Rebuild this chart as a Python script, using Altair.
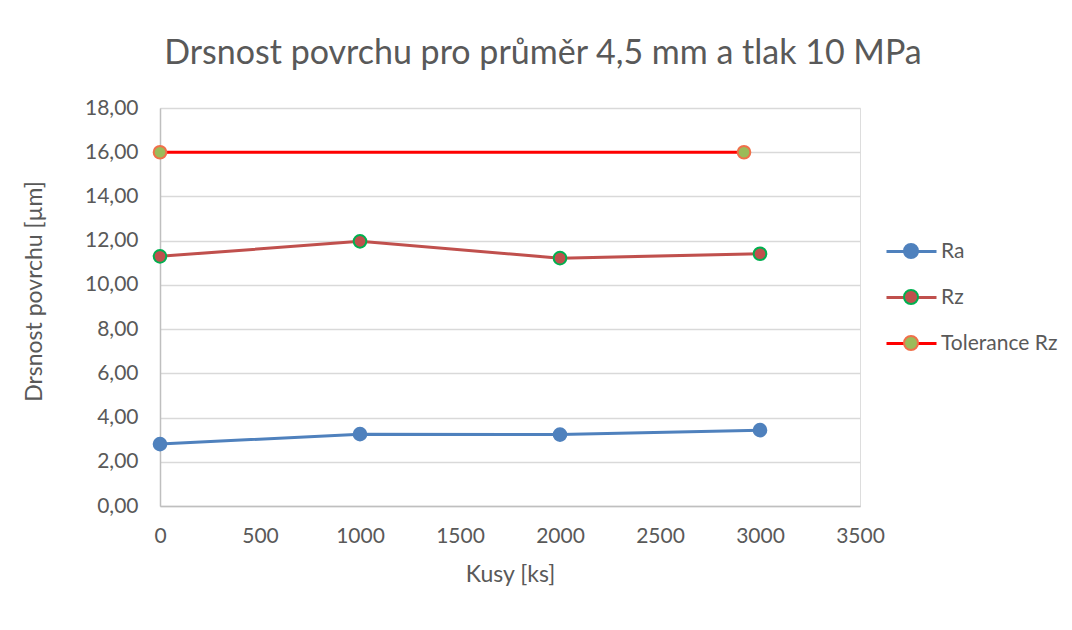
import altair as alt
import pandas as pd

# ---- data ----
kusy = [0, 1000, 2000, 3000]
ra = [2.80, 3.25, 3.23, 3.43]
rz = [11.29, 11.97, 11.21, 11.41]
tol_x = [0, 2920]
tol_y = [16.0, 16.0]

series_names = ["Ra", "Rz", "Tolerance Rz"]
line_colors = ["#4F81BD", "#C0504D", "#FF0000"]
marker_fill = ["#4F81BD", "#C0504D", "#9BBB59"]
marker_stroke = ["#4F81BD", "#00B050", "#F0704A"]

rows = []
for x, y in zip(kusy, ra):
    rows.append({"x": x, "y": y, "s": "Ra"})
for x, y in zip(kusy, rz):
    rows.append({"x": x, "y": y, "s": "Rz"})
for x, y in zip(tol_x, tol_y):
    rows.append({"x": x, "y": y, "s": "Tolerance Rz"})
df = pd.DataFrame(rows)
df["s2"] = df["s"]

FONT = "Lato"
GREY = "#595959"

x_enc = alt.X(
    "x:Q",
    scale=alt.Scale(domain=[0, 3500], nice=False),
    axis=alt.Axis(
        values=[0, 500, 1000, 1500, 2000, 2500, 3000, 3500],
        format="d",
        title="Kusy [ks]",
        grid=False,
        ticks=False,
        labelFlush=False,
        domainColor="#BFBFBF",
        domainWidth=1.5,
        labelFont=FONT,
        labelFontSize=21,
        labelColor=GREY,
        labelPadding=19,
        titleFont=FONT,
        titleFontSize=23,
        titleFontWeight="normal",
        titleColor=GREY,
        titlePadding=17,
    ),
)
y_enc = alt.Y(
    "y:Q",
    scale=alt.Scale(domain=[0, 18], nice=False),
    axis=alt.Axis(
        values=[0, 2, 4, 6, 8, 10, 12, 14, 16, 18],
        labelExpr="replace(format(datum.value, '.2f'), '.', ',')",
        title="Drsnost povrchu [µm]",
        grid=True,
        gridColor="#D9D9D9",
        gridWidth=1.3,
        ticks=False,
        labelFlush=False,
        domainColor="#BFBFBF",
        domainWidth=1.5,
        labelFont=FONT,
        labelFontSize=21,
        labelColor=GREY,
        labelPadding=22,
        titleFont=FONT,
        titleFontSize=23,
        titleFontWeight="normal",
        titleColor=GREY,
        titleX=-114,
        titleY=183,
    ),
)

line_symbol = "M-1,0L1,0"
circle_symbol = "M0.28,0A0.28,0.28,0,1,1,-0.28,0A0.28,0.28,0,1,1,0.28,0Z"

common_legend = dict(
    orient="none",
    legendX=725,
    legendY=117,
    title=None,
    padding=0,
    symbolSize=2500,
    labelFont=FONT,
    labelFontSize=21,
    labelColor=GREY,
    labelOffset=3,
    rowPadding=9,
)

lines = alt.Chart(df).mark_line(strokeWidth=3).encode(
    x=x_enc,
    y=y_enc,
    color=alt.Color(
        "s:N",
        scale=alt.Scale(domain=series_names, range=line_colors),
        legend=alt.Legend(symbolType=line_symbol, symbolStrokeWidth=3, **common_legend),
    ),
)

points = alt.Chart(df).mark_point(filled=True, size=160, strokeWidth=2, opacity=1).encode(
    x=x_enc,
    y=y_enc,
    fill=alt.Fill(
        "s2:N",
        scale=alt.Scale(range=marker_fill),
        legend=alt.Legend(symbolType=circle_symbol, symbolStrokeWidth=2, labelExpr="' '", **common_legend),
    ),
    stroke=alt.Stroke(
        "s2:N",
        scale=alt.Scale(range=marker_stroke),
        legend=alt.Legend(symbolType=circle_symbol, symbolStrokeWidth=2, labelExpr="' '", **common_legend),
    ),
)

chart = (
    alt.layer(lines, points)
    .resolve_scale(color="independent", fill="independent", stroke="independent")
    .properties(
        width=700,
        height=398,
        autosize=alt.AutoSizeParams(type="none"),
        padding={"left": 152, "top": 100, "right": 204, "bottom": 110},
        title=alt.TitleParams(
            "Drsnost povrchu pro průměr 4,5 mm a tlak 10 MPa",
            font=FONT,
            fontSize=34,
            fontWeight="normal",
            color=GREY,
            anchor="middle",
            baseline="alphabetic",
            offset=5,
            dx=33,
            dy=6,
        ),
    )
    .configure_view(stroke=None)
    .configure(background="white")
)

chart.save("out.html", embed_options={"renderer": "svg", "actions": False})
